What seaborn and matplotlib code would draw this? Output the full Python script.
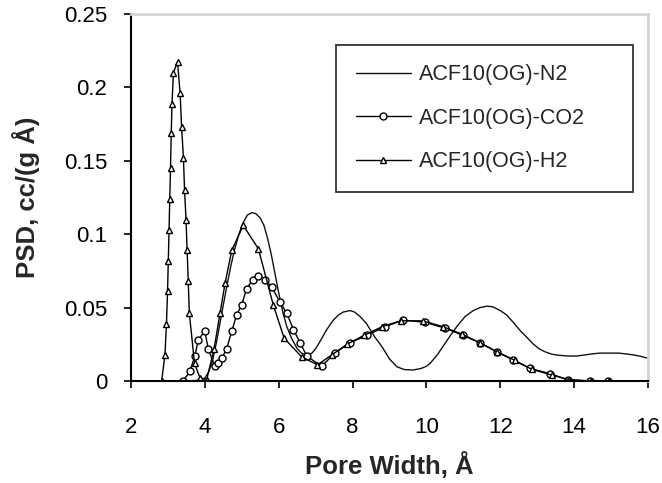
import matplotlib
matplotlib.use("Agg")
import matplotlib.pyplot as plt
import seaborn as sns
import pandas as pd

# Pore size distributions (PSD, cc/(g Å)) versus pore width (Å)
n2_width = [3.6, 3.8, 4.0, 4.1, 4.2, 4.32, 4.45, 4.59, 4.7, 4.8, 4.92, 5.04, 5.15,
            5.27, 5.38, 5.5, 5.6, 5.7, 5.8, 5.9, 6.0, 6.12, 6.22, 6.35, 6.5, 6.62,
            6.76, 6.9, 7.0, 7.12, 7.3, 7.48, 7.62, 7.75, 7.93, 8.05, 8.2, 8.38, 8.5,
            8.6, 8.72, 8.83, 9.0, 9.2, 9.4, 9.64, 9.85, 10.0, 10.1, 10.3, 10.46,
            10.65, 10.82, 11.05, 11.27, 11.45, 11.64, 11.8, 12.0, 12.17, 12.35,
            12.55, 12.71, 12.9, 13.05, 13.2, 13.4, 13.6, 13.85, 14.07, 14.3, 14.5,
            14.7, 15.0, 15.2, 15.42, 15.6, 15.8, 16.0]
n2_psd = [0.0, 0.0005, 0.002, 0.006, 0.013, 0.027, 0.045, 0.064, 0.078, 0.089, 0.100,
          0.108, 0.113, 0.1147, 0.114, 0.111, 0.106, 0.097, 0.086, 0.073, 0.060, 0.046,
          0.037, 0.029, 0.022, 0.019, 0.0175, 0.019, 0.022, 0.027, 0.035, 0.0415,
          0.045, 0.047, 0.048, 0.047, 0.044, 0.039, 0.034, 0.030, 0.026, 0.022, 0.015,
          0.0097, 0.0078, 0.0075, 0.0085, 0.010, 0.012, 0.018, 0.024, 0.031, 0.037,
          0.044, 0.048, 0.050, 0.051, 0.0505, 0.048, 0.045, 0.040, 0.034, 0.030,
          0.025, 0.022, 0.020, 0.0182, 0.0175, 0.017, 0.017, 0.0178, 0.0185, 0.019,
          0.019, 0.019, 0.0184, 0.0178, 0.0168, 0.0155]

co2_width = [3.42, 3.60, 3.73, 3.82, 4.00, 4.09, 4.27, 4.36, 4.47, 4.59, 4.73, 4.86,
             5.00, 5.13, 5.30, 5.45, 5.63, 5.81, 6.03, 6.22, 6.40, 6.58, 6.76, 7.16,
             7.52, 7.93, 8.38, 8.88, 9.37, 9.96, 10.5, 11.0, 11.45, 11.9, 12.35, 12.8,
             13.35, 13.84, 14.43, 14.93]
co2_psd = [0.0, 0.007, 0.017, 0.028, 0.034, 0.022, 0.010, 0.012, 0.016, 0.022, 0.034,
           0.045, 0.052, 0.063, 0.069, 0.0715, 0.069, 0.064, 0.054, 0.046, 0.035, 0.026,
           0.017, 0.010, 0.019, 0.026, 0.031, 0.037, 0.0415, 0.040, 0.036, 0.031, 0.026,
           0.020, 0.0143, 0.0086, 0.005, 0.0007, 0.0, 0.0]

h2_width = [2.83, 2.92, 2.96, 2.99, 3.01, 3.03, 3.05, 3.07, 3.09, 3.11, 3.15, 3.26,
            3.33, 3.37, 3.42, 3.45, 3.49, 3.52, 3.55, 3.58, 3.72, 3.87, 4.05, 4.25,
            4.41, 4.55, 4.73, 5.04, 5.45, 5.85, 6.15, 6.62, 7.05, 7.45, 7.85, 8.3, 8.8,
            9.3, 9.9, 10.45, 10.95, 11.45, 11.9, 12.4, 12.85, 13.4, 13.85, 14.45, 14.95]
h2_psd = [0.0, 0.018, 0.039, 0.061, 0.082, 0.103, 0.124, 0.145, 0.169, 0.189, 0.210,
          0.2175, 0.196, 0.173, 0.152, 0.130, 0.110, 0.089, 0.068, 0.046, 0.012, 0.002,
          0.001, 0.022, 0.046, 0.067, 0.089, 0.106, 0.090, 0.052, 0.029, 0.0165, 0.011,
          0.018, 0.025, 0.031, 0.037, 0.041, 0.041, 0.037, 0.032, 0.026, 0.020, 0.014,
          0.008, 0.004, 0.001, 0.0, 0.0]

series_labels = ["ACF10(OG)-N2", "ACF10(OG)-CO2", "ACF10(OG)-H2"]
x_ticks = [2, 4, 6, 8, 10, 12, 14, 16]
y_ticks = [0, 0.05, 0.1, 0.15, 0.2, 0.25]
y_tick_labels = ["0", "0.05", "0.1", "0.15", "0.2", "0.25"]

sns.set_style("ticks")
plt.rcParams["font.family"] = ["Liberation Sans", "DejaVu Sans"]

fig = plt.figure(figsize=(6.62, 4.83), dpi=100)
ax = fig.add_axes([131 / 662, 1 - 381 / 483, 517 / 662, 367 / 483])

n2 = pd.DataFrame({"w": n2_width, "psd": n2_psd})
co2 = pd.DataFrame({"w": co2_width, "psd": co2_psd})
h2 = pd.DataFrame({"w": h2_width, "psd": h2_psd})

sns.lineplot(data=n2, x="w", y="psd", ax=ax, color="#111111", linewidth=1.0,
             sort=False, estimator=None, label=series_labels[0])
sns.lineplot(data=co2, x="w", y="psd", ax=ax, color="black", linewidth=1.0,
             marker="o", markersize=5, markerfacecolor="white",
             markeredgecolor="black", markeredgewidth=1.0,
             sort=False, estimator=None, label=series_labels[1])
sns.lineplot(data=h2, x="w", y="psd", ax=ax, color="black", linewidth=1.0,
             marker="^", markersize=5, markerfacecolor="white",
             markeredgecolor="black", markeredgewidth=1.0,
             sort=False, estimator=None, label=series_labels[2])

ax.set_xlim(2, 16)
ax.set_ylim(0, 0.25)
ax.set_xticks(x_ticks)
ax.set_yticks(y_ticks)
ax.set_yticklabels(y_tick_labels)
ax.tick_params(axis="both", direction="out", length=5, width=1.2,
               labelsize=16, colors="black")
ax.tick_params(axis="y", pad=12)
ax.tick_params(axis="x", pad=21)

for side in ("left", "bottom"):
    ax.spines[side].set_color("black")
    ax.spines[side].set_linewidth(1.5)
for side in ("top", "right"):
    ax.spines[side].set_visible(True)
    ax.spines[side].set_color("#d4d4d4")
    ax.spines[side].set_linewidth(2.0)

ax.set_xlabel("Pore Width, Å", fontsize=18.5, fontweight="bold", labelpad=10)
ax.set_ylabel("PSD, cc/(g Å)", fontsize=18.5, fontweight="bold", labelpad=17)

leg = ax.legend(loc="upper left", bbox_to_anchor=(0.397, 0.534, 0.574, 0.382),
                mode="expand", borderaxespad=0, fontsize=15.5, frameon=True,
                fancybox=False, edgecolor="black", handlelength=2.55,
                handletextpad=0.4, labelspacing=1.05, borderpad=0.9)
leg.get_frame().set_linewidth(1.3)

fig.savefig("out.png", dpi=100)
